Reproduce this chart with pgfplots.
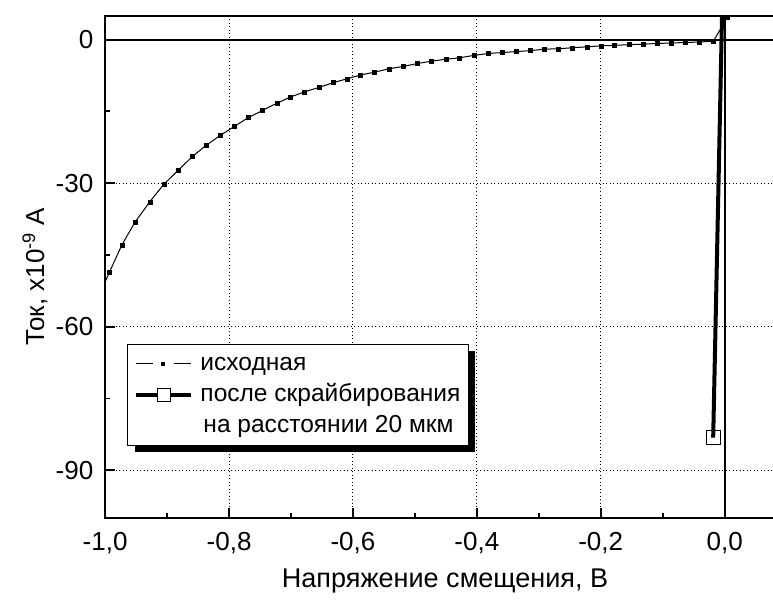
\documentclass[border=0pt]{standalone}
\usepackage{fontspec}
\setmainfont{Liberation Sans}
\usepackage{pgfplots}
\usepackage{pgfplotstable}
\pgfplotsset{compat=1.18}
\usetikzlibrary{shadows,calc}

% исходная
\pgfplotstableread{
x y
-1.016 -55.2
-0.993 -48.6
-0.973 -42.9
-0.952 -38.2
-0.928 -33.9
-0.905 -30.2
-0.882 -27.3
-0.859 -24.4
-0.837 -22.1
-0.814 -20.0
-0.791 -18.1
-0.769 -16.3
-0.746 -14.8
-0.723 -13.3
-0.701 -12.0
-0.678 -10.9
-0.655 -10.0
-0.632 -9.0
-0.610 -8.2
-0.588 -7.4
-0.565 -6.8
-0.542 -6.1
-0.519 -5.6
-0.496 -5.0
-0.473 -4.5
-0.450 -4.1
-0.428 -3.8
-0.405 -3.3
-0.382 -2.9
-0.359 -2.7
-0.337 -2.5
-0.314 -2.3
-0.291 -2.0
-0.268 -1.9
-0.246 -1.7
-0.222 -1.5
-0.200 -1.3
-0.178 -1.2
-0.154 -1.05
-0.132 -0.95
-0.109 -0.8
-0.086 -0.7
-0.063 -0.6
-0.041 -0.5
-0.018 -0.3
0.004 4.6
}\ishod

% после скрайбирования
\pgfplotstableread{
x y
-0.0185 -83.2
-0.0034 10
}\skraib

\begin{document}
\fontsize{26bp}{31bp}\selectfont
\begin{tikzpicture}
\begin{axis}[
  scale only axis,
  width=668bp, height=501.5bp,
  xmin=-1, xmax=0.08, ymin=-100, ymax=5,
  xtick={-1,-0.8,-0.6,-0.4,-0.2,0},
  ytick={-90,-60,-30,0},
  minor x tick num=1, minor y tick num=1,
  tick align=inside,
  xtick pos=left, ytick pos=left,
  major tick length=10bp, minor tick length=5bp,
  every tick/.style={black, line width=1.8bp},
  axis line style={black, line width=2.2bp},
  grid=major,
  major grid style={black, line width=1bp, dash pattern=on 1bp off 2.5bp},
  /pgf/number format/assume math mode=true,
  x tick label style={/pgf/number format/fixed,
    /pgf/number format/fixed zerofill,
    /pgf/number format/precision=1,
    /pgf/number format/use comma,
    yshift=-5bp},
  y tick label style={xshift=-3bp},
  extra x ticks={0}, extra x tick labels={},
  extra y ticks={0}, extra y tick labels={},
  extra tick style={grid=major,
    major grid style={solid, black, line width=2.2bp}},
  xlabel={Напряжение смещения, В},
  ylabel={Ток, x10\textsuperscript{-9} А},
  every axis x label/.style={at={(axis description cs:0.508,0)},
    anchor=center, yshift=-63bp, font=\fontsize{27bp}{32bp}\selectfont},
  every axis y label/.style={at={(axis description cs:-0.105,0.48)},
    rotate=90, anchor=center},
  legend cell align=left,
  legend style={at={(axis description cs:0.033,0.347)}, anchor=north west,
    draw=black, line width=1.2bp, fill=white,
    general shadow={fill=black, shadow xshift=7bp, shadow yshift=-7bp},
    font=\fontsize{24.5bp}{30bp}\selectfont,
    inner xsep=6bp, inner ysep=5bp, row sep=2bp, column sep=6bp,
    nodes={inner sep=2bp, text height=19bp, text depth=6bp}},
]
\addplot[black, line width=1bp, mark=none,
  legend image code/.code={
    \pgfsetlinewidth{1bp}\pgfsetstrokecolor{black}
    \pgfpathmoveto{\pgfpoint{0bp}{0bp}}\pgfpathlineto{\pgfpoint{17bp}{0bp}}
    \pgfpathmoveto{\pgfpoint{38bp}{0bp}}\pgfpathlineto{\pgfpoint{55bp}{0bp}}
    \pgfusepath{stroke}
    \pgfsetfillcolor{black}
    \pgfpathrectangle{\pgfpoint{25.5bp}{-2bp}}{\pgfpoint{4bp}{4bp}}
    \pgfusepath{fill}
  }] table {\ishod};
\addlegendentry{исходная}
\addplot[black, only marks, mark=square*, mark size=2bp, forget plot,
  skip coords between index={0}{1}] table {\ishod};

\addplot[black, line width=4bp, mark=square, mark size=7bp,
  mark options={line width=1.2bp, fill=white}, mark indices={1},
  legend image code/.code={
    \pgfsetlinewidth{3.5bp}\pgfsetstrokecolor{black}
    \pgfpathmoveto{\pgfpoint{0bp}{0bp}}\pgfpathlineto{\pgfpoint{55bp}{0bp}}
    \pgfusepath{stroke}
    \pgfsetlinewidth{1bp}\pgfsetfillcolor{white}
    \pgfpathrectangle{\pgfpoint{22bp}{-6.5bp}}{\pgfpoint{13bp}{13bp}}
    \pgfusepath{fill,stroke}
  }] table {\skraib};
\addlegendentry{после скрайбирования\hspace{7bp}}

\addlegendimage{empty legend}
\addlegendentry{\hspace{3bp}на расстоянии 20 мкм}
\end{axis}
\pgfresetboundingbox
\path[use as bounding box] ($(current axis.south west)+(-105bp,-82bp)$)
  rectangle ($(current axis.north east)+(-1.2bp,15.7bp)$);
\end{tikzpicture}
\end{document}
